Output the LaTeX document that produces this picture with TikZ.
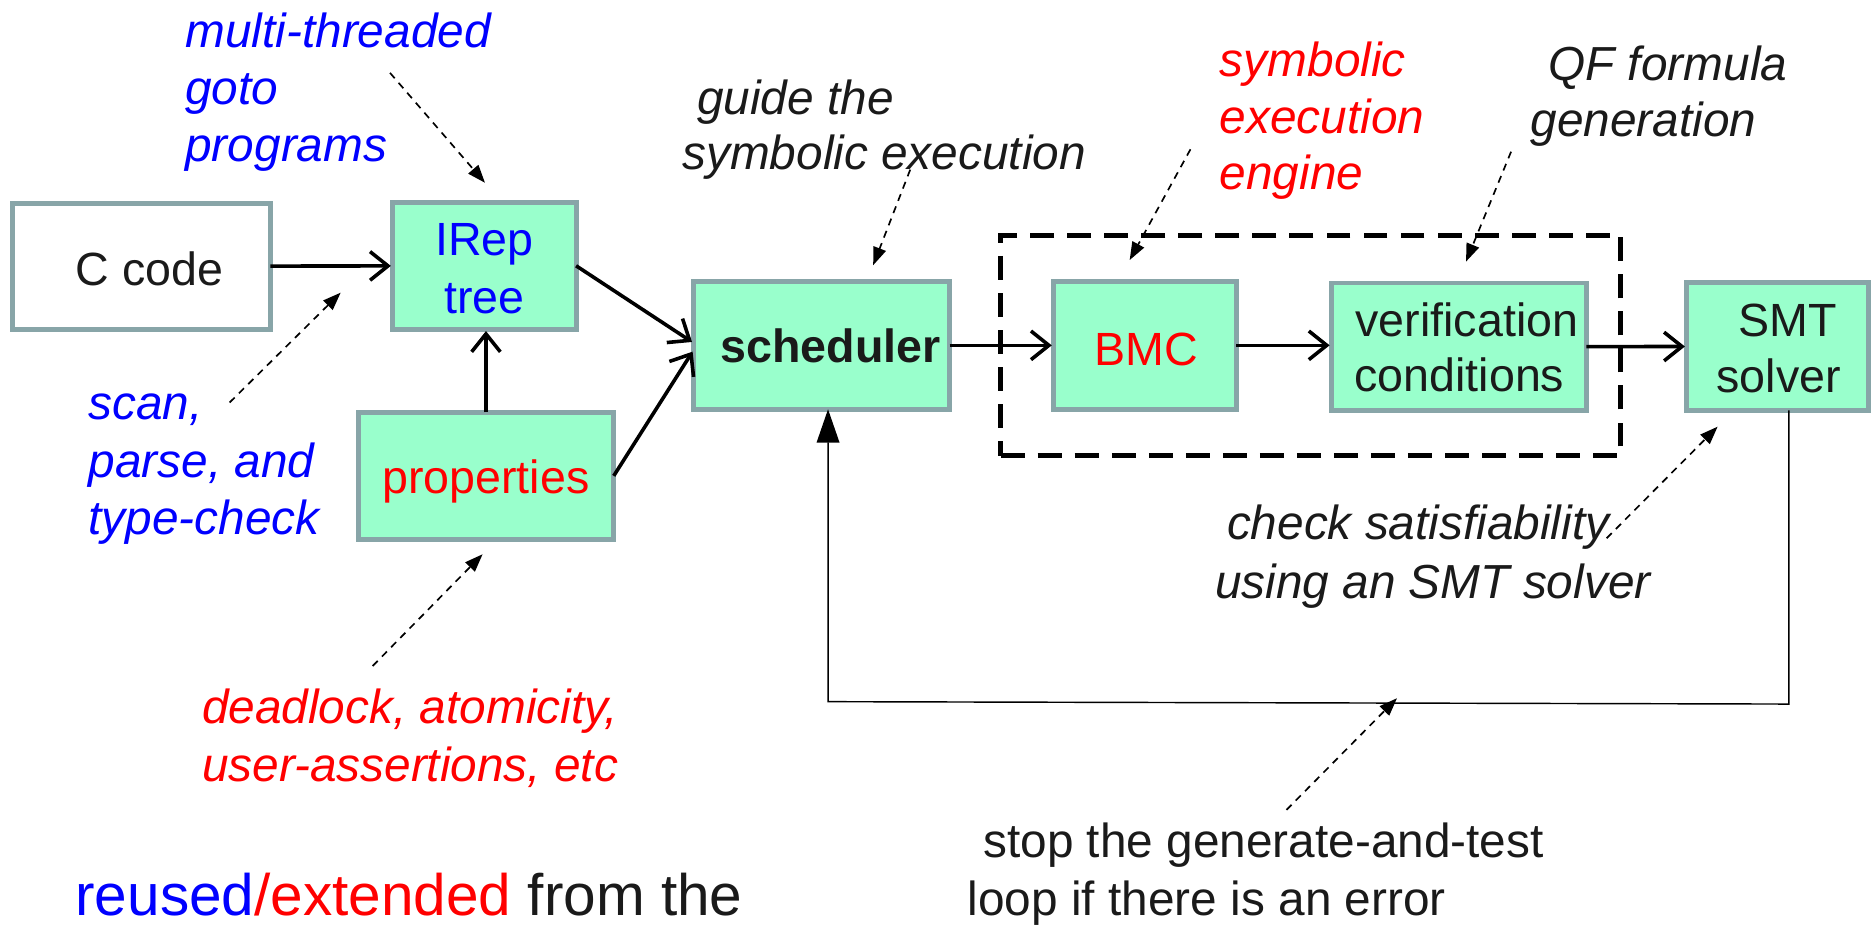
\documentclass[tikz,border=0pt]{standalone}
\usepackage{fontspec}
\setmainfont{Liberation Sans}
\usetikzlibrary{arrows.meta}

\definecolor{boxfill}{HTML}{99FFCC}
\definecolor{boxline}{HTML}{88A5A8}
\definecolor{ink}{HTML}{1A1A1A}
\definecolor{reuse}{HTML}{0000FF}
\definecolor{extend}{HTML}{FF0000}

% stacked lines whose baseline is the first line's baseline
\newcommand\linesL[1]{\vtop{\halign{##\hfil\cr#1\crcr}}}
\newcommand\linesC[1]{\vtop{\halign{\hfil##\hfil\cr#1\crcr}}}

\tikzset{
  blockbox/.style={draw=boxline, line width=4pt, fill=boxfill, inner sep=0pt, outer sep=0pt},
  flowarrow/.style={draw=black, line width=3pt,
    -{Straight Barb[length=15pt,width=24pt,line width=3pt]}, shorten >=1.5pt},
  notearrow/.style={draw=black, line width=1.4pt, dash pattern=on 6pt off 5pt,
    -{Triangle[length=15pt,width=11pt]}},
  backline/.style={draw=black, line width=1.2pt},
  blocktext/.style={font=\fontsize{39}{48}\selectfont, text=ink, inner sep=0pt, anchor=base},
  remark/.style={font=\fontsize{40}{48}\selectfont\itshape, inner sep=0pt, anchor=base west},
}

\begin{document}
\begin{tikzpicture}[x=1pt, y=-1pt]
\useasboundingbox (0,0) rectangle (1568,774);

% processing blocks
\node[blockbox, fill=white, minimum width=215.8pt, minimum height=105.7pt] (ccode) at (118.4,222.9) {};
\node[blockbox, minimum width=153.6pt, minimum height=106.3pt] (irep) at (405.5,222.5) {};
\node[blockbox, minimum width=213.9pt, minimum height=106.3pt] (props) at (406.85,398.35) {};
\node[blockbox, minimum width=214.4pt, minimum height=107pt] (sched) at (687.8,289.1) {};
\node[blockbox, minimum width=153pt, minimum height=107pt] (bmc) at (958.5,289.1) {};
\node[blockbox, minimum width=213.4pt, minimum height=106.5pt] (vc) at (1221.3,290.25) {};
\node[blockbox, minimum width=152pt, minimum height=107pt] (smt) at (1488,290) {};

% symbolic execution engine frame
\node[draw=black, line width=4.2pt, dash pattern=on 20pt off 11pt, inner sep=0pt,
      minimum width=519.2pt, minimum height=184.4pt] (engine) at (1097.3,289.3) {};

% block texts
\node[blocktext, anchor=base west] (tccode) at (63.4,239.4) {C code};
\node[blocktext, text=reuse] (tirep) at (405.5,214.3) {\linesC{IRep\cr tree}};
\node[blocktext, text=extend] (tprops) at (406.8,413) {properties};
\node[blocktext, font=\fontsize{39}{48}\selectfont\bfseries] (tsched) at (695.3,303.6) {scheduler};
\node[blocktext, text=extend] (tbmc) at (959.5,305.6) {BMC};
\node[blocktext, font=\fontsize{39}{46}\selectfont] (tvc) at (1221.7,281.8) {\linesC{\hskip12.6pt verification\cr conditions}};
\node[blocktext, font=\fontsize{39}{47}\selectfont] (tsmt) at (1489,281.8) {\linesC{\hskip15pt SMT\cr solver}};

% data flow
\draw[flowarrow] (ccode) -- (irep);
\draw[flowarrow] (irep.east) -- ([yshift=2pt]sched.west);
\draw[flowarrow] (props.north) -- (props.north |- irep.south);
\draw[flowarrow] (props.east) -- ([yshift=-4pt]sched.west);
\draw[flowarrow] (sched) -- (bmc);
\draw[flowarrow] (bmc.east) -- (vc.west |- bmc.east);
\draw[flowarrow] (vc) -- (smt);

% feedback loop
\coordinate (fbR) at (1497.5,589.4);
\coordinate (fbL) at (693.2,587.4);
\draw[backline, -{Triangle[length=28pt,width=19pt]}]
  (smt.south -| fbR) -- (fbR) -- (fbL) -- (sched.south -| fbL);

% annotations
\node[remark, text=reuse] (nmulti) at (155,39.5) {\linesL{multi-threaded\cr goto\cr programs}};
\node[remark, text=reuse] (nscan) at (74,351.6) {\linesL{scan,\cr parse, and\cr type-check}};
\node[remark, text=extend, font=\fontsize{40}{49}\selectfont\itshape] (nprop) at (169,605.5) {\linesL{deadlock, atomicity,\cr user-assertions, etc}};
\node[remark, text=ink, font=\fontsize{40}{46.3}\selectfont\itshape] (nguide) at (571,96) {\linesL{\hskip12.5pt guide the\cr symbolic execution}};
\node[remark, text=extend, font=\fontsize{40}{47.4}\selectfont\itshape] (nengine) at (1021,64.2) {\linesL{symbolic\cr execution\cr engine}};
\node[remark, text=ink, font=\fontsize{40}{47.4}\selectfont\itshape] (nqf) at (1281,67) {\linesL{\hskip15pt QF formula\cr generation}};
\node[remark, text=ink, font=\fontsize{40}{48.8}\selectfont\itshape] (nsat) at (1017,452) {\linesL{\hskip10pt check satisfiability\cr using an SMT solver}};
\node[remark, text=ink, font=\fontsize{40}{48}\selectfont] (nstop) at (810,718) {\linesL{\hskip13pt stop the generate-and-test\cr loop if there is an error}};
\node[remark, font=\fontsize{49}{58}\selectfont] (nlegend) at (63,766)
  {{\color{reuse}reused}{\color{extend}/extended}\ {\color{ink}from the}};

% annotation pointers
\coordinate (amultiA) at (326.5,61);    \coordinate (amultiB) at (406,153);
\coordinate (ascanA) at (192.2,337);    \coordinate (ascanB) at (285.2,245);
\coordinate (apropA) at (312,557.5);    \coordinate (apropB) at (404,464);
\coordinate (aguideA) at (762,142);     \coordinate (aguideB) at (731,222);
\coordinate (aengA) at (996.6,125);     \coordinate (aengB) at (945.7,217.7);
\coordinate (aqfA) at (1265,127);       \coordinate (aqfB) at (1227.3,219);
\coordinate (asatA) at (1345,450.6);    \coordinate (asatB) at (1437.9,357.2);
\coordinate (astopA) at (1077,678);     \coordinate (astopB) at (1169.5,584.5);
\draw[notearrow] (amultiA) -- (amultiB);
\draw[notearrow] (ascanA) -- (ascanB);
\draw[notearrow] (apropA) -- (apropB);
\draw[notearrow] (aguideA) -- (aguideB);
\draw[notearrow] (aengA) -- (aengB);
\draw[notearrow] (aqfA) -- (aqfB);
\draw[notearrow] (asatA) -- (asatB);
\draw[notearrow] (astopA) -- (astopB);
\end{tikzpicture}
\end{document}
